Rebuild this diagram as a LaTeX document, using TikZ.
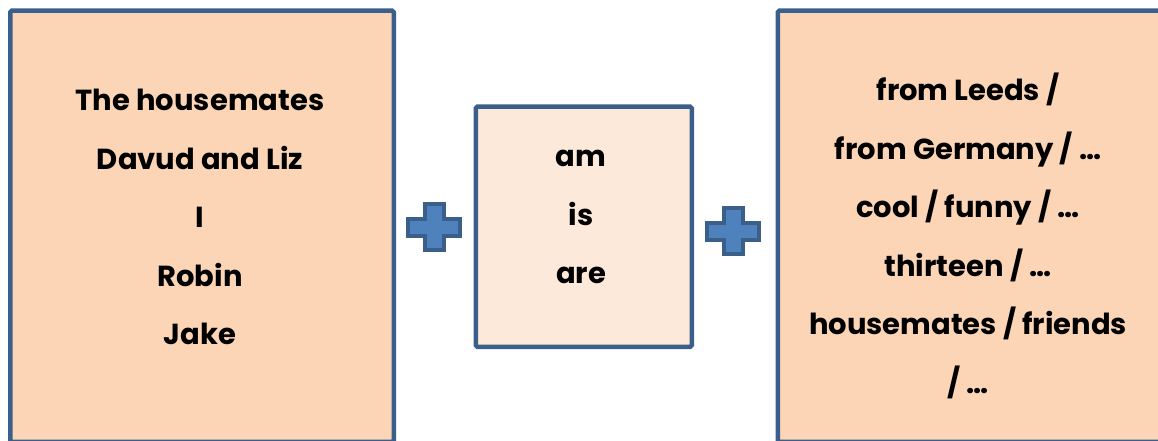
\documentclass[tikz,border=0pt]{standalone}
\usepackage{fontspec}
\setmainfont{Poppins}
\usetikzlibrary{calc}
\definecolor{boxline}{HTML}{3A5F8B}
\definecolor{peach}{HTML}{FBD5B5}
\definecolor{lightpeach}{HTML}{FDE9D9}
\definecolor{plusblue}{HTML}{4F81BD}
\tikzset{
 card/.style={draw=boxline,line width=4.5pt,rounded corners=1.5pt,inner sep=0pt},
 words/.style={align=center,font=\bfseries\fontsize{29}{58.6}\selectfont},
 plusarm/.style={draw=boxline,fill=plusblue,line width=4pt,line join=miter}
}
\newcommand\plussign[2]{% centre x, centre y
 \filldraw[plusarm] (#1-9.5,#2+23)--(#1+9.5,#2+23)--(#1+9.5,#2+8.5)--(#1+26,#2+8.5)--(#1+26,#2-8.5)
  --(#1+9.5,#2-8.5)--(#1+9.5,#2-23)--(#1-9.5,#2-23)--(#1-9.5,#2-8.5)--(#1-26,#2-8.5)
  --(#1-26,#2+8.5)--(#1-9.5,#2+8.5)--cycle;}
\begin{document}
\begin{tikzpicture}[x=1pt,y=-1pt]
 \useasboundingbox (0,0) rectangle (1158,441);
 \node[card,fill=peach,minimum width=383.5pt,minimum height=431pt,anchor=north west] (subjbox) at (8,8.5) {};
 \node[card,fill=lightpeach,minimum width=216pt,minimum height=240pt,anchor=north west] (verbbox) at (473.5,104.5) {};
 \node[card,fill=peach,minimum width=384pt,minimum height=431pt,anchor=north west] (complbox) at (775.5,8.5) {};
 \plussign{434}{227}
 \plussign{733}{231}
 \node[words] (subj) at (200,217) {The housemates\\Davud and Liz\\I\\Robin\\Jake};
 \node[words] (verb) at (581,217) {am\\is\\are};
 \node[words] (compl) at (968,236) {from Leeds /\\from Germany / …\\cool / funny / …\\thirteen / …\\housemates / friends\\/ …};
\end{tikzpicture}
\end{document}
